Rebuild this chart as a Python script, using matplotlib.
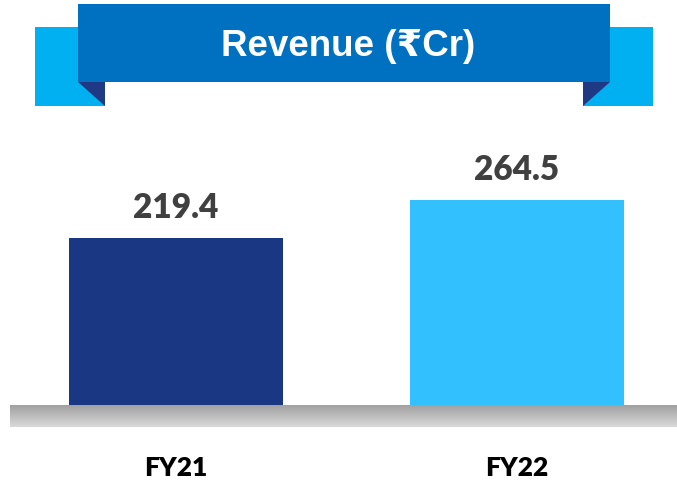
import matplotlib
matplotlib.use('Agg')
import matplotlib.pyplot as plt
import numpy as np
from matplotlib.patches import Rectangle, Polygon

# data
years = ['FY21', 'FY22']
revenue = [219.4, 264.5]
bar_colors = ['#1A3784', '#33C0FF']
title = 'Revenue (₹Cr)'

W, H = 677, 481
fig = plt.figure(figsize=(W / 100, H / 100), dpi=100)

# bar axes: y=0 sits at pixel 424 (hidden under the grey base)
ax = fig.add_axes([0, (H - 424) / H, 1, 324 / H])
ax.patch.set_alpha(0)
x = np.arange(len(years))
ax.bar(x, revenue, width=0.628, color=bar_colors)
ax.set_xlim(-0.516, -0.516 + W / 341)
ax.set_ylim(0, 324 / 0.8431)
for xi, v in zip(x, revenue):
    ax.annotate(f'{v:.1f}', (xi, v), xytext=(0, 11), textcoords='offset points',
                ha='center', va='bottom', fontsize=24, fontweight='heavy',
                color='#404040', family='Lato')
ax.set_xticks(x, years)
ax.tick_params(axis='x', length=0, pad=23)
for lbl in ax.get_xticklabels():
    lbl.set_fontsize(19)
    lbl.set_fontweight('heavy')
    lbl.set_family('Lato')
    lbl.set_color('black')
ax.set_yticks([])
for s in ax.spines.values():
    s.set_visible(False)

# overlay in pixel coords for the banner and the grey base
ov = fig.add_axes([0, 0, 1, 1], zorder=3)
ov.set_xlim(0, W)
ov.set_ylim(H, 0)
ov.axis('off')
ov.patch.set_alpha(0)

grad = np.linspace(0.63, 0.85, 50).reshape(-1, 1)
ov.imshow(grad, extent=(10, W, 428, 406), cmap='gray', vmin=0, vmax=1, aspect='auto')

ov.add_patch(Rectangle((35, 28), 70, 79, color='#00B0F0', lw=0))
ov.add_patch(Rectangle((583, 28), 70, 79, color='#00B0F0', lw=0))
ov.add_patch(Polygon([(78, 83), (105, 83), (105, 107)], color='#1F3985', lw=0))
ov.add_patch(Polygon([(610, 83), (583, 83), (583, 107)], color='#1F3985', lw=0))
ov.add_patch(Rectangle((78, 5), 532, 78, color='#0070C0', lw=0))
ov.text(348, 46, title, ha='center', va='center', color='white', fontsize=26.5,
        fontweight='bold', family=['Liberation Sans', 'DejaVu Sans'])

fig.savefig('out.png', dpi=100)
